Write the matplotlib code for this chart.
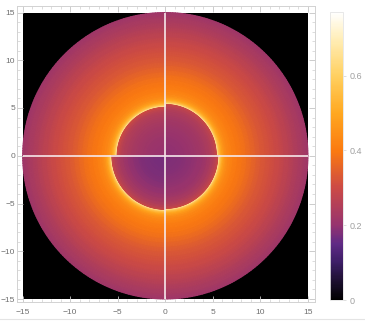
import numpy as np
import matplotlib
matplotlib.use("Agg")
import matplotlib.pyplot as plt
from matplotlib.cm import ScalarMappable
from matplotlib.colors import LinearSegmentedColormap, Normalize
from matplotlib.lines import Line2D
from matplotlib.patches import Rectangle

plt.rcParams["font.family"] = ["Liberation Sans", "DejaVu Sans"]

# colour scale
scale_values = [0, 0.05, 0.1, 0.15, 0.2, 0.3, 0.4, 0.5, 0.6, 0.7, 0.77]
scale_colors = ["#000000", "#1d1030", "#3d1e66", "#5f2a85", "#96336f", "#cc4a45",
                "#fb7a10", "#ffa820", "#ffd060", "#ffeeb8", "#ffffff"]

# quadrants: start angle (deg), radius of the inner disc
quad_angles = [0, 90, 180, 270]
quad_radii = [5.5, 5.2, 5.75, 5.65]

# inner disc, radius as fraction of disc radius
inner_frac = [0, 0.15, 0.3, 0.4, 0.5, 0.6, 0.7, 0.78, 0.85, 0.9, 0.94, 0.97, 0.99, 1.0]
inner_vals = [
    [0.195, 0.197, 0.20, 0.205, 0.21, 0.217, 0.225, 0.235, 0.245, 0.257, 0.27, 0.285, 0.30, 0.33],
    [0.205, 0.207, 0.21, 0.215, 0.22, 0.227, 0.235, 0.245, 0.255, 0.267, 0.28, 0.295, 0.31, 0.33],
    [0.17, 0.172, 0.175, 0.18, 0.185, 0.195, 0.205, 0.22, 0.235, 0.25, 0.265, 0.28, 0.30, 0.34],
    [0.18, 0.182, 0.185, 0.19, 0.195, 0.203, 0.21, 0.225, 0.24, 0.255, 0.27, 0.285, 0.305, 0.34],
]

# outside the disc, distance from the disc edge then out to the rim
outer_dist = [0, 0.05, 0.1, 0.15, 0.2, 0.3, 0.4, 0.5, 0.65, 0.8, 1, 1.25, 1.5, 2, 2.5, 3, 3.5,
              4, 4.5, 5, 5.5, 6, 6.5, 7, 7.5, 8, 8.5, 9, 9.5]
outer_vals = [0.67, 0.64, 0.61, 0.58, 0.555, 0.525, 0.50, 0.48, 0.46, 0.445, 0.43, 0.42, 0.41,
              0.395, 0.385, 0.375, 0.36, 0.345, 0.33, 0.32, 0.31, 0.30, 0.29, 0.275, 0.265,
              0.25, 0.24, 0.23, 0.215]

x_ticks = [-15, -10, -5, 0, 5, 10, 15]
y_ticks = [-15, -10, -5, 0, 5, 10, 15]
bar_ticks = [0, 0.2, 0.4, 0.6]

W, H = 365, 325
cmap = LinearSegmentedColormap.from_list(
    "sunset", [(v / scale_values[-1], c) for v, c in zip(scale_values, scale_colors)], N=256)
norm = Normalize(0, scale_values[-1])


def add_ring(ax, start, radii, vals):
    t = np.radians(np.linspace(start, start + 90, 91))
    r = np.asarray(radii)
    X = np.outer(r, np.cos(t))
    Y = np.outer(r, np.sin(t))
    C = np.tile(np.asarray(vals)[:, None], (1, len(t)))
    ax.pcolormesh(X, Y, C, shading="gouraud", cmap=cmap, norm=norm, rasterized=True)


fig = plt.figure(figsize=(W / 100, H / 100), dpi=100, facecolor="white")
ax = fig.add_axes([16.7 / W, 1 - 302 / H, (315 - 16.7) / W, (302 - 6) / H])
ax.set_xlim((16.7 - 165.3) / 9.51, (315 - 165.3) / 9.51)
ax.set_ylim((155.75 - 302) / 9.55, (155.75 - 6) / 9.55)

ax.add_patch(Rectangle((-15, -15), 30, 30, fc="black", ec="none", zorder=0))
for i, start in enumerate(quad_angles):
    R = quad_radii[i]
    add_ring(ax, start, [f * R for f in inner_frac], inner_vals[i])
    add_ring(ax, start, [R + d * (15 - R) / outer_dist[-1] for d in outer_dist], outer_vals)

ax.plot([-15, 15], [0, 0], color="#f6e8ea", lw=1.2, zorder=5, solid_capstyle="butt")
ax.plot([0, 0], [-15, 15], color="#f6e8ea", lw=1.2, zorder=5, solid_capstyle="butt")

ax.set_xticks(x_ticks)
ax.set_yticks(y_ticks)
ax.set_xticks(np.arange(-15, 16), minor=True)
ax.set_yticks(np.arange(-15, 16), minor=True)
ax.tick_params(which="major", direction="in", length=4, width=0.6, color="#c4c4c4",
               top=True, right=True, labelsize=6, labelcolor="#707070")
ax.tick_params(axis="x", which="major", pad=5)
ax.tick_params(axis="y", which="major", pad=1)
ax.tick_params(which="minor", direction="in", length=2, width=0.5, color="#cfcfcf",
               top=True, right=True)
for s in ax.spines.values():
    s.set_color("#d2d2d2")
    s.set_linewidth(0.7)

cax = fig.add_axes([330 / W, 1 - 300 / H, 13 / W, 288 / H])
cb = fig.colorbar(ScalarMappable(norm=norm, cmap=cmap), cax=cax)
cb.set_ticks(bar_ticks)
cb.set_ticklabels(["0", "0.2", "0.4", "0.6"])
cb.ax.tick_params(length=2, width=0.5, color="#d0d0d0", labelsize=6.5, labelcolor="#a0a0a0", pad=3)
cb.outline.set_edgecolor("#e4e4e4")
cb.outline.set_linewidth(0.6)

fig.add_artist(Line2D([0, 1], [1 - 318.5 / H] * 2, color="#e4e4e4", lw=0.8))

fig.savefig("out.png", dpi=100)
